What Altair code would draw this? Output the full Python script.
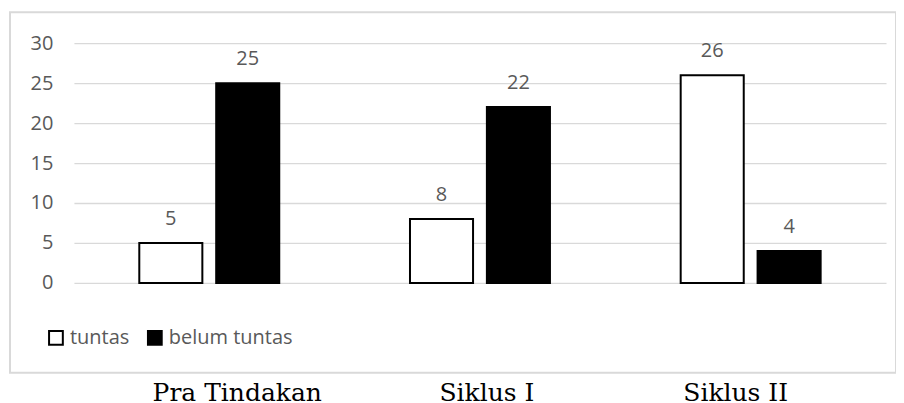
import altair as alt
import pandas as pd

categories = ["Pra Tindakan", "Siklus I", "Siklus II"]
series = ["tuntas", "belum tuntas"]
tuntas = [5, 8, 26]
belum_tuntas = [25, 22, 4]
y_ticks = [0, 5, 10, 15, 20, 25, 30]

rows = []
for i, c in enumerate(categories):
    rows.append({"kategori": c, "seri": "tuntas", "nilai": tuntas[i]})
    rows.append({"kategori": c, "seri": "belum tuntas", "nilai": belum_tuntas[i]})
df = pd.DataFrame(rows)

label_offset = {
    "condition": [
        {"test": "datum.value == 'Pra Tindakan'", "value": 28},
        {"test": "datum.value == 'Siklus I'", "value": 7},
    ],
    "value": -15,
}

x_enc = alt.X("kategori:N", sort=categories, title=None,
              scale=alt.Scale(domain=categories, paddingInner=0, paddingOuter=0),
              axis=alt.Axis(labelAngle=0, domain=False, ticks=False, labelPadding=98,
                            labelFont="DejaVu Serif", labelFontSize=25, labelColor="#000000",
                            grid=False, labelOffset=label_offset))
xoff = alt.XOffset("seri:N", sort=series,
                   scale=alt.Scale(domain=series, paddingInner=0.18, paddingOuter=0.85))
y_enc = alt.Y("nilai:Q", title=None,
              scale=alt.Scale(domain=[0, 30], nice=False),
              axis=alt.Axis(values=y_ticks, tickCount=7, labelOverlap=False,
                            domain=False, ticks=False, labelPadding=21,
                            labelFont="Open Sans", labelFontSize=20, labelColor="#595959",
                            gridColor="#d9d9d9", gridWidth=1.3))

bars = alt.Chart(df).mark_bar(stroke="black", strokeWidth=2, clip=False).encode(
    x=x_enc, xOffset=xoff, y=y_enc,
    fill=alt.Fill("seri:N", sort=series,
                  scale=alt.Scale(domain=series, range=["white", "black"]),
                  legend=alt.Legend(title=None, orient="none", legendX=-28, legendY=285,
                                    direction="horizontal", symbolType="square",
                                    symbolSize=190, symbolStrokeColor="black",
                                    symbolStrokeWidth=2, labelFont="Open Sans",
                                    labelFontSize=20, labelColor="#595959",
                                    columnPadding=14, labelOffset=4)),
)

labels = alt.Chart(df).mark_text(baseline="alphabetic", dy=-18, font="Open Sans",
                                 fontSize=20, color="#595959").encode(
    x=x_enc, xOffset=xoff, y=y_enc,
    text="nilai:Q",
)

box_df = pd.DataFrame({"k": [0]})
box = alt.Chart(box_df).mark_rect(fill=None, stroke="#d9d9d9", strokeWidth=2, clip=False).encode(
    x=alt.value(-64), x2=alt.value(823), y=alt.value(-31), y2=alt.value(330)
)

chart = alt.layer(box, bars, labels).properties(
    width=813, height=240,
    autosize=alt.AutoSizeParams(type="none"),
    padding={"left": 66, "top": 35, "right": 10, "bottom": 120},
).configure_view(stroke=None)

chart.save("out.html", embed_options={"renderer": "svg", "actions": False})
